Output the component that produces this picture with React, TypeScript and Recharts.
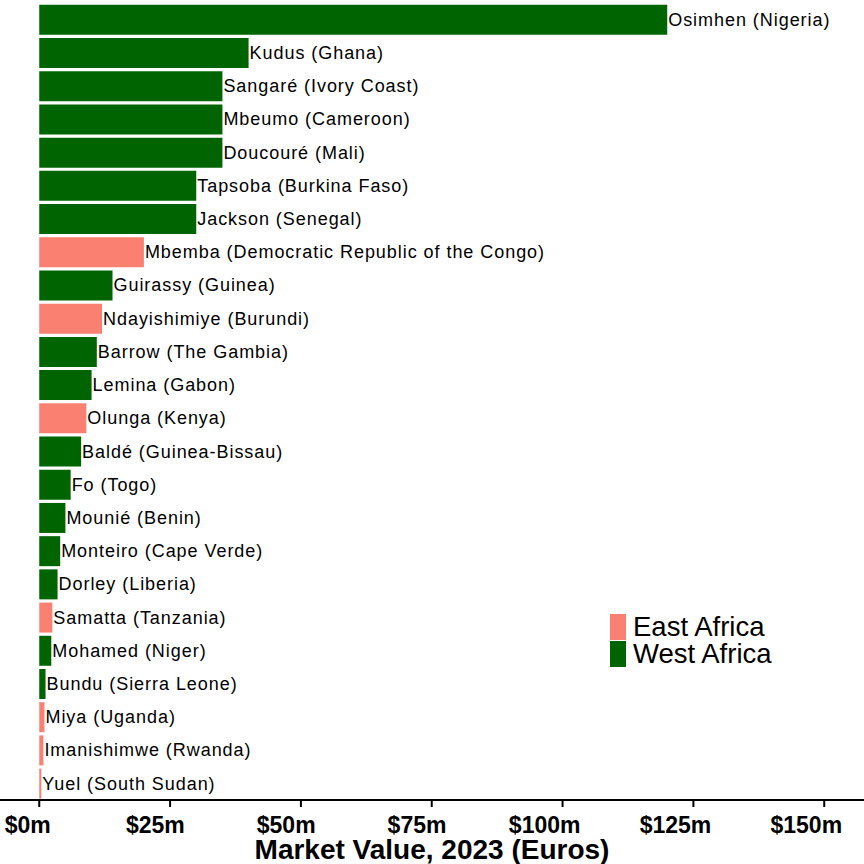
import React from 'react';
import { BarChart, Bar, XAxis, YAxis, Cell, LabelList } from 'recharts';

const players = [
  'Osimhen', 'Kudus', 'Sangaré', 'Mbeumo', 'Doucouré', 'Tapsoba', 'Jackson', 'Mbemba',
  'Guirassy', 'Ndayishimiye', 'Barrow', 'Lemina', 'Olunga', 'Baldé', 'Fo', 'Mounié',
  'Monteiro', 'Dorley', 'Samatta', 'Mohamed', 'Bundu', 'Miya', 'Imanishimwe', 'Yuel'
];

const countries = [
  'Nigeria', 'Ghana', 'Ivory Coast', 'Cameroon', 'Mali', 'Burkina Faso', 'Senegal',
  'Democratic Republic of the Congo', 'Guinea', 'Burundi', 'The Gambia', 'Gabon', 'Kenya',
  'Guinea-Bissau', 'Togo', 'Benin', 'Cape Verde', 'Liberia', 'Tanzania', 'Niger',
  'Sierra Leone', 'Uganda', 'Rwanda', 'South Sudan'
];

const regions = [
  'West Africa', 'West Africa', 'West Africa', 'West Africa', 'West Africa', 'West Africa',
  'West Africa', 'East Africa', 'West Africa', 'East Africa', 'West Africa', 'West Africa',
  'East Africa', 'West Africa', 'West Africa', 'West Africa', 'West Africa', 'West Africa',
  'East Africa', 'West Africa', 'West Africa', 'East Africa', 'East Africa', 'East Africa'
];

// market value in millions of euros
const values = [120, 40, 35, 35, 35, 30, 30, 20, 14, 12, 11, 10, 9, 8, 6, 5, 4, 3.5, 2.5, 2.3, 1.2, 1, 0.8, 0.4];

const xTicks = [0, 25, 50, 75, 100, 125, 150];
const legendItems = ['East Africa', 'West Africa'];

const regionColor: Record<string, string> = {
  'East Africa': '#FA8072',
  'West Africa': '#006400'
};

const data = players.map((p, i) => ({
  name: `${p} (${countries[i]})`,
  value: values[i],
  region: regions[i]
}));

const font = '"Liberation Sans", Arial, sans-serif';

const BarLabel = (props: any) => {
  const { x, y, width, height, value } = props;
  return (
    <text
      x={x + width + 1}
      y={y + height / 2}
      dominantBaseline="central"
      fontFamily={font}
      fontSize={18}
      letterSpacing={0.95}
      fill="#000"
    >
      {value}
    </text>
  );
};

// tick labels sit a bit left of their tick, like the original plot
const MoneyTick = (props: any) => {
  const { x, y, payload } = props;
  return (
    <text
      x={x}
      y={y}
      dy="0.71em"
      textAnchor="middle"
      fontFamily={font}
      fontWeight="bold"
      fontSize={23}
      fill="#000"
      style={{ transformBox: 'fill-box', transform: 'translateX(-25%)' } as any}
    >
      {`$${payload.value}m`}
    </text>
  );
};

const AxisTitle = (props: any) => {
  const { viewBox } = props;
  return (
    <text
      x={viewBox.x + viewBox.width / 2}
      y={viewBox.y + 59}
      textAnchor="middle"
      fontFamily={font}
      fontWeight="bold"
      fontSize={28}
      fill="#000"
    >
      Market Value, 2023 (Euros)
    </text>
  );
};

const RegionLegend = () => (
  <div
    style={{
      position: 'absolute',
      left: 610,
      top: 614,
      fontFamily: font,
      fontSize: 27.5,
      lineHeight: '26px',
      color: '#000'
    }}
  >
    {legendItems.map((r) => (
      <div key={r} style={{ display: 'flex', alignItems: 'center', height: 26, marginBottom: 1 }}>
        <span style={{ width: 16, height: 26, background: regionColor[r], marginRight: 7 }} />
        <span>{r}</span>
      </div>
    ))}
  </div>
);

export default function App() {
  return (
    <div style={{ position: 'absolute', left: 0, top: 0, width: 864, height: 864, background: '#fff' }}>
      <BarChart
        width={864}
        height={864}
        data={data}
        layout="vertical"
        margin={{ top: 3, right: 0, bottom: 0, left: 0 }}
        barCategoryGap="5.5%"
      >
        <XAxis
          type="number"
          domain={[-7.5, 157.6]}
          ticks={xTicks}
          allowDataOverflow
          height={64}
          tick={<MoneyTick />}
          tickSize={7}
          tickMargin={10}
          axisLine={{ stroke: '#000', strokeWidth: 2 }}
          tickLine={{ stroke: '#000', strokeWidth: 2 }}
          label={<AxisTitle />}
        />
        <YAxis type="category" dataKey="name" hide width={0} />
        <Bar dataKey="value" isAnimationActive={false}>
          {data.map((d) => (
            <Cell key={d.name} fill={regionColor[d.region]} />
          ))}
          <LabelList dataKey="name" content={<BarLabel />} />
        </Bar>
      </BarChart>
      <RegionLegend />
    </div>
  );
}
